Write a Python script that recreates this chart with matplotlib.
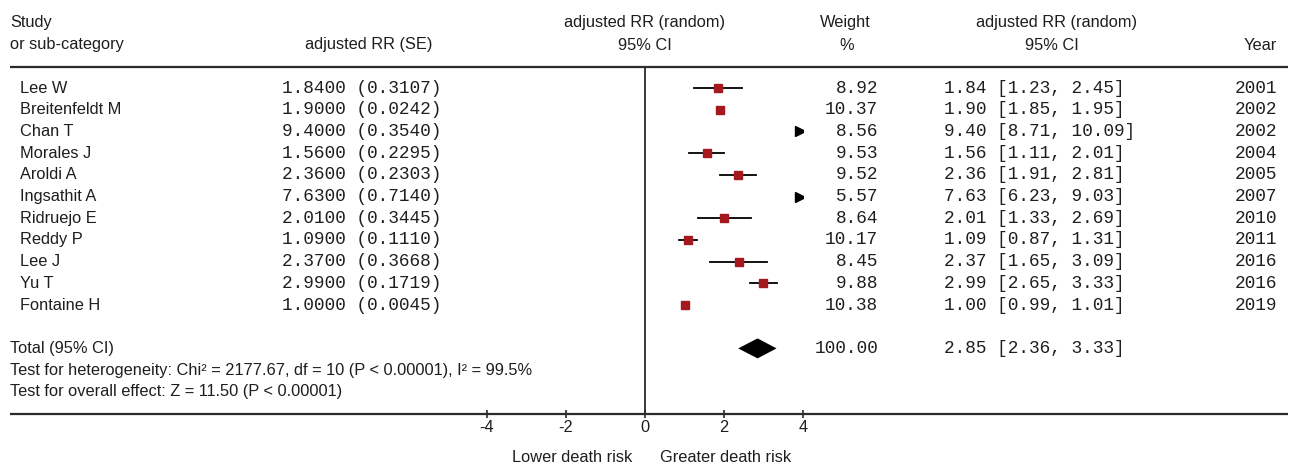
import matplotlib
matplotlib.use("Agg")
import matplotlib.pyplot as plt
from matplotlib.transforms import blended_transform_factory

# === Data ===
studies = ["Lee W", "Breitenfeldt M", "Chan T", "Morales J", "Aroldi A", "Ingsathit A",
           "Ridruejo E", "Reddy P", "Lee J", "Yu T", "Fontaine H"]
rr = [1.84, 1.90, 9.40, 1.56, 2.36, 7.63, 2.01, 1.09, 2.37, 2.99, 1.00]
rr_exact = [1.8400, 1.9000, 9.4000, 1.5600, 2.3600, 7.6300, 2.0100, 1.0900, 2.3700, 2.9900, 1.0000]
se = [0.3107, 0.0242, 0.3540, 0.2295, 0.2303, 0.7140, 0.3445, 0.1110, 0.3668, 0.1719, 0.0045]
ci_lo = [1.23, 1.85, 8.71, 1.11, 1.91, 6.23, 1.33, 0.87, 1.65, 2.65, 0.99]
ci_hi = [2.45, 1.95, 10.09, 2.01, 2.81, 9.03, 2.69, 1.31, 3.09, 3.33, 1.01]
weights = [8.92, 10.37, 8.56, 9.53, 9.52, 5.57, 8.64, 10.17, 8.45, 9.88, 10.38]
years = [2001, 2002, 2002, 2004, 2005, 2007, 2010, 2011, 2016, 2016, 2019]

total_rr, total_lo, total_hi, total_w = 2.85, 2.36, 3.33, 100.00
het_text = "Test for heterogeneity: Chi\u00b2 = 2177.67, df = 10 (P < 0.00001), I\u00b2 = 99.5%"
overall_text = "Test for overall effect: Z = 11.50 (P < 0.00001)"
xticks = [-4, -2, 0, 2, 4]

# === Layout (pixels) ===
W, H = 1291, 465
x0px, x1px = 487, 803
top_px, bot_px = 67, 414
row0, dy = 88, 21.7

SANS = ["Liberation Sans", "DejaVu Sans"]
MONO = ["Liberation Mono", "DejaVu Sans Mono"]
FS_S, FS_M = 11.8, 12.8
TXT = "#1e1e1e"
LINE = "#2b2b2b"
RED = "#a3191e"

fig = plt.figure(figsize=(W / 100, H / 100), dpi=100)

# background axes in pixel units for the text columns
bg = fig.add_axes([0, 0, 1, 1])
bg.set_xlim(0, W)
bg.set_ylim(H, 0)
bg.axis("off")

# forest plot axes
ax = fig.add_axes([x0px / W, 1 - bot_px / H, (x1px - x0px) / W, (bot_px - top_px) / H])
ax.set_xlim(xticks[0], xticks[-1])
ax.set_ylim((bot_px - row0) / dy, (top_px - row0) / dy)
ax.patch.set_alpha(0)
for s in ax.spines.values():
    s.set_visible(False)
ax.set_yticks([])
ax.set_xticks(xticks)
ax.set_xticklabels([str(t) for t in xticks], family=SANS, fontsize=FS_S, color=TXT)
ax.tick_params(axis="x", direction="inout", length=6, width=1.2, color=LINE, pad=1.5)

tr = blended_transform_factory(bg.transData, ax.transData)

# header
bg.text(10, 23, "Study", family=SANS, fontsize=FS_S, color=TXT, va="center")
bg.text(10, 45, "or sub-category", family=SANS, fontsize=FS_S, color=TXT, va="center")
bg.text(369, 45, "adjusted RR (SE)", family=SANS, fontsize=FS_S, color=TXT, ha="center", va="center")
bg.text(645, 23, "adjusted RR (random)", family=SANS, fontsize=FS_S, color=TXT, ha="center", va="center")
bg.text(645, 45, "95% CI", family=SANS, fontsize=FS_S, color=TXT, ha="center", va="center")
bg.text(845, 23, "Weight", family=SANS, fontsize=FS_S, color=TXT, ha="center", va="center")
bg.text(847, 45, "%", family=SANS, fontsize=FS_S, color=TXT, ha="center", va="center")
bg.text(1056, 23, "adjusted RR (random)", family=SANS, fontsize=FS_S, color=TXT, ha="center", va="center")
bg.text(1052, 45, "95% CI", family=SANS, fontsize=FS_S, color=TXT, ha="center", va="center")
bg.text(1277, 45, "Year", family=SANS, fontsize=FS_S, color=TXT, ha="right", va="center")

bg.plot([10, 1288], [top_px, top_px], color=LINE, lw=1.6, solid_capstyle="butt")
bg.plot([10, 1288], [bot_px, bot_px], color=LINE, lw=1.6, solid_capstyle="butt")
ax.axvline(0, color=LINE, lw=1.3)

# study rows
xmax = ax.get_xlim()[1]
for i, name in enumerate(studies):
    ax.text(20, i, name, transform=tr, family=SANS, fontsize=FS_S, color=TXT, va="center")
    ax.text(282, i, f"{rr_exact[i]:.4f} ({se[i]:.4f})", transform=tr, family=MONO,
            fontsize=FS_M, color=TXT, va="center")
    ax.text(878, i, f"{weights[i]:.2f}", transform=tr, family=MONO, fontsize=FS_M,
            color=TXT, ha="right", va="center")
    ax.text(944, i, f"{rr[i]:.2f} [{ci_lo[i]:.2f}, {ci_hi[i]:.2f}]", transform=tr,
            family=MONO, fontsize=FS_M, color=TXT, va="center")
    ax.text(1277, i, str(years[i]), transform=tr, family=MONO, fontsize=FS_M,
            color=TXT, ha="right", va="center")
    if ci_lo[i] > xmax:
        ax.plot(xmax - 0.08, i, marker=">", ms=7, color="black", mec="black")
    else:
        ax.plot([ci_lo[i], ci_hi[i]], [i, i], color="black", lw=1.3)
        ax.plot(rr[i], i, marker="s", ms=5.6 * (weights[i] / 10) ** 0.5, color=RED, mec=RED)

# total
ty = len(studies) + 1
ax.text(10, ty, "Total (95% CI)", transform=tr, family=SANS, fontsize=FS_S, color=TXT, va="center")
ax.text(10, ty + 1, het_text, transform=tr, family=SANS, fontsize=FS_S, color=TXT, va="center")
ax.text(10, ty + 2, overall_text, transform=tr, family=SANS, fontsize=FS_S, color=TXT, va="center")
ax.text(878, ty, f"{total_w:.2f}", transform=tr, family=MONO, fontsize=FS_M,
        color=TXT, ha="right", va="center")
ax.text(944, ty, f"{total_rr:.2f} [{total_lo:.2f}, {total_hi:.2f}]", transform=tr,
        family=MONO, fontsize=FS_M, color=TXT, va="center")
h = 10 / dy
ax.fill([total_lo, total_rr, total_hi, total_rr], [ty, ty - h, ty, ty + h], color="black", lw=0)

# bottom labels
bg.text(632, 457, "Lower death risk", family=SANS, fontsize=FS_S, color=TXT, ha="right", va="center")
bg.text(660, 457, "Greater death risk", family=SANS, fontsize=FS_S, color=TXT, ha="left", va="center")

fig.savefig("out.png", dpi=100)
